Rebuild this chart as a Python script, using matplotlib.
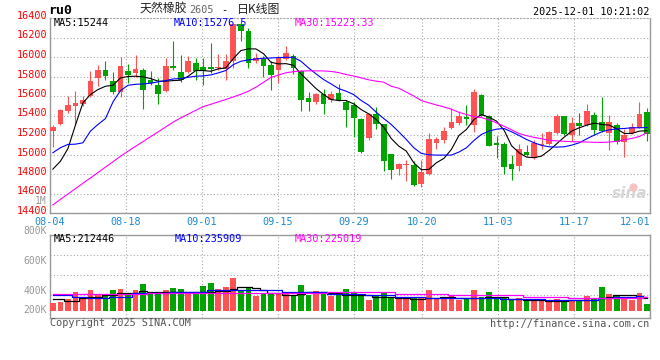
import numpy as np
import matplotlib
matplotlib.use("Agg")
import matplotlib.pyplot as plt

# ---- data (ru0, daily, 2025-08-04 .. 2025-12-01) ----
date_labels = ['08-04', '08-18', '09-01', '09-15', '09-29', '10-20', '11-03', '11-17', '12-01']
date_index = [0, 10, 20, 30, 40, 49, 59, 69, 79]
price_ticks = [14400, 14600, 14800, 15000, 15200, 15400, 15600, 15800, 16000, 16200, 16400]

opens = [15236, 15315, 15444, 15496, 15520, 15598, 15786, 15871, 15758, 15639,
         15861, 15837, 15871, 15769, 15717, 15649, 15905, 15847, 15847, 15939,
         15895, 15895, 15885, 15881, 15956, 16339, 16270, 15956, 15980, 15915,
         15864, 15980, 16007, 15854, 15581, 15536, 15625, 15554, 15635, 15537,
         15506, 15359, 15171, 15420, 15308, 15001, 14847, 14895, 14888, 14693,
         14796, 15113, 15144, 15267, 15325, 15387, 15298, 15608, 15400, 15117,
         15103, 14898, 14881, 15025, 14967, 15098, 15103, 15216, 15393, 15205,
         15318, 15298, 15410, 15332, 15223, 15298, 15127, 15216, 15274, 15431]
highs = [15298, 15470, 15598, 15656, 15598, 15854, 15915, 15963, 15847, 16000,
         15929, 16025, 15888, 15854, 15786, 15990, 16168, 16025, 16014, 15990,
         15990, 16144, 16030, 16031, 16350, 16370, 16298, 16042, 16007, 15960,
         16010, 16117, 16031, 15870, 15642, 15630, 15676, 15656, 15724, 15560,
         15540, 15370, 15430, 15485, 15310, 15010, 14912, 14943, 14932, 14943,
         15223, 15178, 15284, 15472, 15451, 15506, 15676, 15620, 15410, 15188,
         15127, 14990, 15110, 15096, 15147, 15223, 15246, 15420, 15400, 15383,
         15427, 15513, 15437, 15588, 15410, 15325, 15257, 15325, 15537, 15478]
lows = [15076, 15300, 15430, 15301, 15500, 15590, 15700, 15769, 15622, 15588,
        15734, 15792, 15468, 15717, 15519, 15640, 15871, 15740, 15840, 15760,
        15717, 15837, 15870, 15769, 15888, 16161, 15888, 15940, 15792, 15666,
        15734, 15970, 15827, 15444, 15444, 15520, 15420, 15540, 15550, 15280,
        15178, 15020, 15144, 15257, 14830, 14752, 14786, 14728, 14680, 14666,
        14790, 15052, 15113, 15260, 15301, 15301, 15233, 15390, 15086, 14967,
        14803, 14738, 14830, 14985, 14950, 15052, 15100, 15210, 15205, 15137,
        15199, 15290, 15205, 15230, 15045, 15103, 14973, 15210, 15270, 15137]
closes = [15277, 15458, 15506, 15533, 15554, 15758, 15871, 15803, 15639, 15912,
          15820, 15881, 15666, 15734, 15625, 15912, 15888, 15769, 15956, 15861,
          15861, 15878, 15895, 15963, 16339, 16263, 15939, 15990, 15905, 15820,
          16000, 16042, 15888, 15564, 15540, 15625, 15523, 15625, 15564, 15461,
          15373, 15025, 15420, 15308, 14932, 14840, 14898, 14902, 14687, 14820,
          15154, 15154, 15246, 15335, 15393, 15359, 15639, 15393, 15086, 15096,
          14871, 14850, 15052, 14994, 15113, 15105, 15229, 15400, 15212, 15318,
          15291, 15444, 15250, 15240, 15332, 15130, 15195, 15284, 15414, 15212]

ma5 = [14850, 14930, 15060, 15300, 15530, 15615, 15666, 15700, 15710, 15786,
       15800, 15803, 15796, 15779, 15752, 15752, 15758, 15762, 15803, 15861,
       15861, 15854, 15878, 15888, 15984, 16066, 16083, 16083, 16035, 15946,
       15929, 15932, 15915, 15827, 15752, 15676, 15615, 15564, 15554, 15554,
       15519, 15461, 15417, 15359, 15281, 15164, 15086, 15035, 14915, 14844,
       14847, 14915, 14960, 15052, 15195, 15257, 15359, 15410, 15383, 15342,
       15250, 15090, 15018, 14973, 14967, 14984, 15042, 15110, 15178, 15240,
       15274, 15301, 15322, 15308, 15301, 15263, 15216, 15216, 15240, 15244]
ma10 = [15018, 15069, 15103, 15106, 15120, 15240, 15308, 15369, 15540, 15656,
        15710, 15720, 15724, 15731, 15745, 15758, 15775, 15779, 15792, 15803,
        15806, 15816, 15837, 15861, 15922, 15956, 15970, 15980, 15987, 15990,
        15994, 15997, 15997, 15956, 15888, 15827, 15769, 15724, 15676, 15649,
        15615, 15554, 15506, 15434, 15369, 15308, 15233, 15154, 15069, 15011,
        14997, 14994, 14994, 14994, 15025, 15069, 15144, 15206, 15240, 15260,
        15267, 15233, 15195, 15154, 15120, 15093, 15079, 15076, 15079, 15096,
        15120, 15161, 15199, 15233, 15253, 15263, 15267, 15274, 15274, 15276.5]
ma30 = [14483, 14539, 14594, 14650, 14705, 14760, 14815, 14871, 14926, 14982,
        15034, 15084, 15133, 15183, 15232, 15282, 15332, 15375, 15414, 15453,
        15491, 15515, 15540, 15564, 15590, 15617, 15649, 15690, 15740, 15790,
        15815, 15838, 15850, 15856, 15858, 15858, 15857, 15852, 15840, 15820,
        15805, 15786, 15766, 15752, 15742, 15700, 15680, 15640, 15600, 15553,
        15530, 15508, 15488, 15465, 15432, 15410, 15388, 15378, 15355, 15325,
        15290, 15253, 15215, 15193, 15175, 15162, 15145, 15140, 15135, 15132,
        15130, 15128, 15125, 15124, 15128, 15135, 15150, 15165, 15185, 15223.33]

# volume in thousands of lots
volume = [136, 152, 190, 315, 217, 342, 261, 261, 342, 358,
          272, 342, 440, 288, 299, 342, 375, 358, 315, 299,
          407, 462, 358, 396, 543, 326, 386, 250, 288, 288,
          288, 315, 261, 424, 261, 326, 315, 250, 261, 358,
          315, 250, 179, 250, 299, 223, 206, 206, 206, 206,
          342, 206, 206, 250, 179, 206, 342, 233, 310, 217,
          217, 195, 217, 163, 179, 179, 179, 201, 163, 168,
          168, 244, 195, 391, 277, 244, 233, 179, 293, 114]
vol_ma5 = [190, 190, 163, 163, 206, 233, 233, 261, 261, 288,
           288, 288, 326, 304, 304, 315, 315, 315, 315, 315,
           315, 315, 326, 326, 364, 396, 396, 369, 342, 299,
           299, 255, 255, 277, 304, 304, 304, 288, 288, 255,
           255, 255, 255, 233, 233, 233, 212, 212, 195, 195,
           206, 206, 223, 223, 217, 217, 206, 206, 223, 223,
           223, 201, 201, 174, 174, 174, 163, 163, 163, 185,
           185, 185, 185, 217, 233, 255, 260, 262, 240, 212.4]
vol_ma10 = [261, 261, 261, 233, 233, 206, 206, 206, 233, 233,
            233, 288, 288, 288, 288, 288, 315, 315, 315, 315,
            315, 342, 342, 342, 342, 342, 342, 342, 342, 342,
            342, 310, 310, 310, 310, 310, 310, 283, 283, 283,
            283, 283, 255, 255, 255, 255, 223, 223, 223, 223,
            206, 206, 206, 206, 206, 206, 217, 217, 217, 217,
            201, 201, 201, 201, 201, 201, 179, 179, 179, 179,
            179, 179, 179, 207, 217, 223, 226, 228, 239, 235.9]
vol_ma30 = [283, 283, 283, 283, 283, 283, 283, 283, 283, 283,
            283, 283, 283, 298, 298, 298, 298, 298, 298, 298,
            298, 298, 298, 298, 298, 298, 298, 298, 298, 298,
            298, 298, 298, 298, 298, 298, 298, 312, 312, 312,
            312, 312, 312, 312, 312, 312, 285, 285, 285, 285,
            285, 285, 285, 255, 255, 255, 255, 255, 255, 255,
            255, 255, 255, 222, 222, 222, 222, 222, 222, 205,
            205, 205, 205, 205, 205, 205, 212, 215, 220, 225.0]

# ---- styling ----
plt.rcParams['font.family'] = ['DejaVu Sans Mono', 'Noto Sans CJK SC']
RED = '#ff5252'
GREEN = '#00a300'
GRID = '#a8a8a8'
W, H = 660, 360


def fx(px):
    return px / W


def fy(py):
    return 1 - py / H


fig = plt.figure(figsize=(6.6, 3.6), dpi=100)
fig.patch.set_facecolor('white')

ax = fig.add_axes([fx(50), fy(213), 600 / W, 195 / H])
axv = fig.add_axes([fx(50), fy(318.3), 600 / W, 83.6 / H])

x = np.arange(len(closes))
o = np.array(opens, float)
c = np.array(closes, float)
up = c >= o
colors = np.where(up, RED, GREEN)
xlim = (-0.379, 79.41)
grid_pos = [xlim[0] + i * (xlim[1] - xlim[0]) / 79 for i in date_index]

# price panel
ax.vlines(x, lows, highs, colors=colors, linewidth=0.8, zorder=3)
ax.bar(x, np.maximum(np.abs(c - o), 10), bottom=np.minimum(o, c), width=0.76,
       color=colors, linewidth=0, zorder=4)
ax.plot(x, ma5, color='black', lw=0.8, zorder=5)
ax.plot(x, ma10, color='#0000ff', lw=0.8, zorder=5)
ax.plot(x, ma30, color='#ff00ff', lw=0.8, zorder=5)

ax.set_xlim(*xlim)
ax.set_ylim(14400, 16400)
ax.set_yticks(price_ticks)
ax.set_yticklabels([])
# price labels sit a couple of pixels above their grid lines
for v in price_ticks:
    ax.annotate(str(v), xy=(0, v), xycoords=('axes fraction', 'data'),
                xytext=(-3, 2), textcoords='offset pixels', ha='right', va='center',
                fontsize=7.3, color='#ff0000', annotation_clip=False)
ax.set_xticks(grid_pos)
ax.set_xticklabels(date_labels, color='#1a8ad4', fontsize=7.3)
ax.get_xticklabels()[-1].set_ha('right')
ax.tick_params(axis='both', length=0)
ax.tick_params(axis='x', pad=3)
ax.grid(True, color=GRID, linestyle=(0, (1, 2)), linewidth=0.8)
ax.set_axisbelow(True)
for s in ['left', 'right', 'bottom']:
    ax.spines[s].set_color('#999999')
    ax.spines[s].set_linewidth(1)
ax.spines['top'].set_color(GRID)
ax.spines['top'].set_linestyle((0, (1, 2)))

# sina watermark
ax.text(0.995, 0.06, 'sina', transform=ax.transAxes, ha='right', va='bottom',
        fontsize=11, style='italic', weight='bold', color='#d6d6d6',
        family='DejaVu Sans', zorder=1)
ax.plot(0.972, 0.135, 'o', transform=ax.transAxes, ms=5, color='#f2c4c4',
        mec='#f2c4c4', zorder=1)

# volume panel
axv.bar(x, volume, width=0.76, color=colors, linewidth=0, zorder=3)
axv.plot(x, vol_ma5, color='black', lw=0.9, drawstyle='steps-mid', zorder=4)
axv.plot(x, vol_ma10, color='#0000ff', lw=0.9, drawstyle='steps-mid', zorder=4)
axv.plot(x, vol_ma30, color='#ff00ff', lw=0.9, drawstyle='steps-mid', zorder=4)
axv.set_xlim(*xlim)
axv.set_ylim(-119, 1244)
axv.set_xticks(grid_pos)
axv.set_yticks([])
axv.tick_params(axis='x', length=0, labelbottom=False)
axv.grid(True, axis='x', color=GRID, linestyle=(0, (1, 2)), linewidth=0.8)
for f in [0.275, 0.514, 0.754]:
    axv.plot([0, 1], [f, f], transform=axv.transAxes, color=GRID,
             linestyle=(0, (1, 2)), linewidth=0.8, zorder=1)
axv.set_axisbelow(True)
for s in axv.spines.values():
    s.set_color('#999999')
    s.set_linewidth(1)

# volume axis labels (fixed positions as in the original)
for txt, py in [('1M', 201.5), ('800K', 230.7), ('600K', 260.7), ('400K', 290.5), ('200K', 310)]:
    fig.text(fx(47), fy(py), txt, ha='right', va='center', fontsize=7.0, color='#999999')

# header texts
fig.text(fx(48), fy(10), 'ru0', ha='left', va='center', fontsize=9.5, weight='bold', color='black')
fig.text(fx(140), fy(9), '天然橡胶', ha='left', va='center', fontsize=8.6,
         family=['Noto Sans CJK SC', 'DejaVu Sans'], color='#222222')
fig.text(fx(189), fy(10), '2605', ha='left', va='center', fontsize=7.3, color='#666666')
fig.text(fx(221), fy(10), '-', ha='left', va='center', fontsize=7.3, color='black')
fig.text(fx(237), fy(9), '日K线图', ha='left', va='center', fontsize=8.6,
         family=['Noto Sans CJK SC', 'DejaVu Sans'], color='#222222')
fig.text(fx(649), fy(12), '2025-12-01 10:21:02', ha='right', va='center', fontsize=7.3, color='black')

fig.text(fx(54), fy(23.5), 'MA5:15244', ha='left', va='center', fontsize=7.3, color='black')
fig.text(fx(174), fy(23.5), 'MA10:15276.5', ha='left', va='center', fontsize=7.3, color='#0000ff')
fig.text(fx(295), fy(23.5), 'MA30:15223.33', ha='left', va='center', fontsize=7.3, color='#ff00ff')

fig.text(fx(54), fy(239), 'MA5:212446', ha='left', va='center', fontsize=7.3, color='black')
fig.text(fx(175), fy(239), 'MA10:235909', ha='left', va='center', fontsize=7.3, color='#0000ff')
fig.text(fx(295), fy(239), 'MA30:225019', ha='left', va='center', fontsize=7.3, color='#ff00ff')

fig.text(fx(50), fy(323), 'Copyright 2025 SINA.COM', ha='left', va='center', fontsize=7.3, color='#555555')
fig.text(fx(649), fy(324), 'http://finance.sina.com.cn', ha='right', va='center', fontsize=7.3, color='#555555')

fig.savefig('out.png', dpi=100)
